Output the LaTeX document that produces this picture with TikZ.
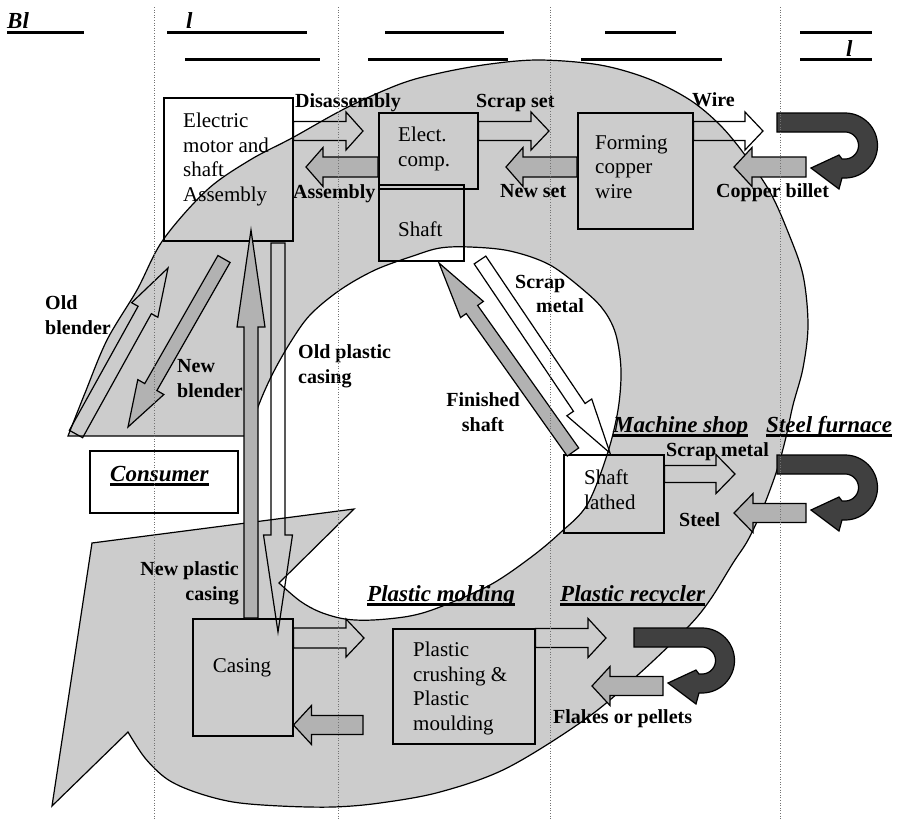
\documentclass[tikz,border=0pt]{standalone}
\usepackage{fontspec}
\setmainfont{Liberation Serif}
\usetikzlibrary{calc}
\definecolor{bandfill}{gray}{0.8}
\definecolor{arrowfill}{gray}{0.7}
\definecolor{uturnfill}{gray}{0.25}
\definecolor{guide}{gray}{0.45}

% block arrow: style, tail, tip, half body width, half head width, head length
\newcommand\blockarrow[6]{%
  \coordinate (bahead) at ($(#3)!#6!(#2)$);
  \draw[#1] ($(#2)!#4!90:(#3)$) -- ($(bahead)!#4!-90:(#2)$) -- ($(bahead)!#5!-90:(#2)$)
    -- (#3) -- ($(bahead)!#5!90:(#2)$) -- ($(bahead)!#4!90:(#2)$) -- ($(#2)!#4!-90:(#3)$) -- cycle;}

% U-turn arrow, top-left corner at the given coordinate
\newcommand\uturnarrow[1]{%
  \draw[uturn, shift={(#1)}] (0,0) -- (68,0)
    -- plot[domain=-90:90, samples=36] ({68+32.5*cos(\x)},{32.5+32.5*sin(\x)})
    -- (65,65) -- (62,76) -- (34,55) -- (62,42) -- (65,46) -- (68,46)
    -- plot[domain=90:-90, samples=30] ({68+13.5*cos(\x)},{32.5+13.5*sin(\x)})
    -- (0,19) -- cycle;}

\begin{document}
\begin{tikzpicture}[x=1pt,y=-1pt,
  band/.style={fill=bandfill, draw=black, line width=1.2pt},
  box/.style={draw=black, line width=1.5pt, inner sep=0pt, anchor=north west},
  btxt/.style={font=\fontsize{21}{24.5}\selectfont, inner sep=0pt, align=left},
  lbl/.style={font=\fontsize{20}{25}\selectfont\bfseries, inner sep=0pt},
  hdr/.style={font=\fontsize{23}{26}\selectfont\bfseries\itshape, inner sep=0pt, anchor=base west},
  hul/.style={line width=3pt},
  warr/.style={draw=black, line width=1.2pt, line join=miter},
  garr/.style={draw=black, fill=arrowfill, line width=1.2pt, line join=miter},
  uturn/.style={draw=black, fill=uturnfill, line width=1.2pt},
  colline/.style={draw=guide, dotted, line width=0.6pt}
]
\useasboundingbox (0,0) rectangle (906,820);

% the circular flow band
\path[band] (68,436) -- plot[smooth, tension=0.55] coordinates {(68,436) (85,393) (107,340) (137,290)
  (163,240) (207,190) (250,160) (292,138) (346,108) (400,84) (440,73) (490,64) (540,60) (600,65)
  (649,79) (690,100) (720,125) (745,155) (770,192) (788,232) (803,275) (808,325) (803,368)
  (793,405) (786,437) (777,470) (763,508) (748,540) (733,563) (710,600) (688,627) (640,673)
  (587,718) (507,768) (440,792) (380,803) (333,807) (280,806) (233,802) (195,792) (167,779)
  (145,758) (128,732)}
  -- (52,806) -- (92,543) -- (354,509) -- (279,583)
  -- plot[smooth, tension=0.55] coordinates {(279,583) (300,601) (320,612) (345,619) (373,620)
  (410,616) (440,607) (490,585) (530,558) (560,533) (587,505) (607,455) (618,410) (621,370)
  (616,335) (605,312) (587,293) (550,265) (510,251) (470,247) (440,248) (413,256) (375,270)
  (340,290) (310,315) (290,343) (272,375) (258,407) (250,436)} -- cycle;

% column headings (underlines)
\node[hdr, anchor=base west] (h1) at (7,28) {Bl};
\node[hdr, anchor=base west] (h2) at (186,28) {l};
\node[hdr, anchor=base west] (h5) at (846,56) {l};
\draw[hul] (7,32) -- (84,32);
\draw[hul] (167,32) -- (307,32);  \draw[hul] (185,59) -- (320,59);
\draw[hul] (385,32) -- (504,32);  \draw[hul] (368,59) -- (508,59);
\draw[hul] (605,32) -- (676,32);  \draw[hul] (581,59) -- (722,59);
\draw[hul] (800,32) -- (872,32);  \draw[hul] (800,59) -- (872,59);

% process boxes
\node[box, minimum width=129pt, minimum height=143pt] (emsa) at (163,97) {};
\node[box, minimum width=99pt, minimum height=76pt] (elec) at (378,112) {};
\node[box, minimum width=85pt, minimum height=76pt] (shaft) at (378,184) {};
\node[box, minimum width=115pt, minimum height=116pt] (form) at (577,112) {};
\node[box, minimum width=100pt, minimum height=78pt] (lathe) at (563,454) {};
\node[box, minimum width=100pt, minimum height=117pt] (casing) at (192,618) {};
\node[box, minimum width=142pt, minimum height=115pt] (crush) at (392,628) {};
\node[box, fill=white, minimum width=148pt, minimum height=62pt] (cons) at (89,450) {};

\node[btxt, anchor=north west] (emsa-t) at (183,113) {Electric\\motor and\\shaft\\Assembly};
\node[btxt, anchor=north west] (elec-t) at (398,127) {Elect.\\comp.};
\node[btxt, anchor=base west] (shaft-t) at (398,236) {Shaft};
\node[btxt, anchor=north west] (form-t) at (595,135) {Forming\\copper\\wire};
\node[btxt, anchor=north west] (lathe-t) at (584,470) {Shaft\\lathed};
\node[btxt, anchor=base] (casing-t) at (242,672) {Casing};
\node[btxt, anchor=north west] (crush-t) at (413,642) {Plastic\\crushing \&\\Plastic\\moulding};

% horizontal flows
\coordinate (dis-t) at (emsa.east |- 0,131);   \coordinate (dis-h) at (363,131);
\coordinate (asm-t) at (elec.west |- 0,167);   \coordinate (asm-h) at (306,167);
\coordinate (ss-t) at (elec.east |- 0,131);    \coordinate (ss-h) at (549,131);
\coordinate (ns-t) at (form.west |- 0,167);    \coordinate (ns-h) at (506,167);
\coordinate (wire-t) at (form.east |- 0,131);  \coordinate (wire-h) at (763,131);
\coordinate (cb-t) at (806,167);               \coordinate (cb-h) at (734,167);
\coordinate (sm-t) at (lathe.east |- 0,474);   \coordinate (sm-h) at (735,474);
\coordinate (st-t) at (806,513);               \coordinate (st-h) at (734,513);
\coordinate (pc-t) at (crush.east |- 0,638);   \coordinate (pc-h) at (606,638);
\coordinate (fp-t) at (663,686);               \coordinate (fp-h) at (592,686);
\coordinate (cs-t) at (casing.east |- 0,638);  \coordinate (cs-h) at (364,638);
\coordinate (cm-t) at (363,725);               \coordinate (cm-h) at (casing.east |- 0,725);
\blockarrow{warr}{dis-t}{dis-h}{9.5pt}{19pt}{17pt}
\blockarrow{garr}{asm-t}{asm-h}{10pt}{19.5pt}{17pt}
\blockarrow{warr}{ss-t}{ss-h}{9.5pt}{19pt}{18pt}
\blockarrow{garr}{ns-t}{ns-h}{10pt}{19.5pt}{17pt}
\blockarrow{warr}{wire-t}{wire-h}{9.5pt}{19pt}{18pt}
\blockarrow{garr}{cb-t}{cb-h}{10pt}{19.5pt}{18pt}
\blockarrow{warr}{sm-t}{sm-h}{8.5pt}{19.5pt}{19pt}
\blockarrow{garr}{st-t}{st-h}{9.5pt}{19.5pt}{19pt}
\blockarrow{warr}{pc-t}{pc-h}{9.5pt}{19.5pt}{18pt}
\blockarrow{garr}{fp-t}{fp-h}{9.5pt}{19.5pt}{18pt}
\blockarrow{warr}{cs-t}{cs-h}{10pt}{19pt}{18pt}
\blockarrow{garr}{cm-t}{cm-h}{9.5pt}{19.5pt}{18pt}

% long and diagonal flows
\coordinate (npc-t) at (251,618); \coordinate (npc-h) at (251,230);
\coordinate (opc-t) at (278,243); \coordinate (opc-h) at (278,632);
\coordinate (ob-t) at (76,434);   \coordinate (ob-h) at (168,268);
\coordinate (nb-t) at (224,259);  \coordinate (nb-h) at (128,427);
\coordinate (fs-t) at (573,452);  \coordinate (fs-h) at (439,263);
\coordinate (scm-t) at (480,260); \coordinate (scm-h) at (610,453);
\blockarrow{garr}{npc-t}{npc-h}{7pt}{14pt}{97pt}
\blockarrow{warr}{opc-t}{opc-h}{7pt}{14.5pt}{97pt}
\blockarrow{warr}{ob-t}{ob-h}{7.6pt}{15pt}{48pt}
\blockarrow{garr}{nb-t}{nb-h}{7pt}{15pt}{46pt}
\blockarrow{garr}{fs-t}{fs-h}{7pt}{14pt}{57pt}
\blockarrow{warr}{scm-t}{scm-h}{7pt}{15pt}{55pt}

% furnace / recycler return loops
\coordinate (ut1) at (777,113);
\coordinate (ut2) at (777,455);
\coordinate (ut3) at (634,628);
\uturnarrow{ut1}
\uturnarrow{ut2}
\uturnarrow{ut3}

% flow labels
\node[lbl, anchor=base west] (l-dis) at (295,107) {Disassembly};
\node[lbl, anchor=base west] (l-asm) at (293,198) {Assembly};
\node[lbl, anchor=base west] (l-ss) at (476,107) {Scrap set};
\node[lbl, anchor=base west] (l-ns) at (500,197) {New set};
\node[lbl, anchor=base west] (l-wire) at (692,106) {Wire};
\node[lbl, anchor=base west] (l-cb) at (716,197) {Copper billet};
\node[lbl, anchor=base west] (l-scr1) at (515,288) {Scrap};
\node[lbl, anchor=base west] (l-scr2) at (536,312) {metal};
\node[lbl, anchor=north west, align=left] (l-opc) at (298,344.5) {Old plastic\\casing};
\node[lbl, anchor=north, align=center] (l-fs) at (483,392.5) {Finished\\shaft};
\node[lbl, anchor=north west, align=left] (l-ob) at (45,295.5) {Old\\blender};
\node[lbl, anchor=north west, align=left] (l-nb) at (177,359.5) {New\\blender};
\node[lbl, anchor=north east, align=right] (l-npc) at (239,561.5) {New plastic\\casing};
\node[lbl, anchor=base west] (l-sm) at (666,456) {Scrap metal};
\node[lbl, anchor=base west] (l-st) at (679,526) {Steel};
\node[lbl, anchor=base west] (l-fp) at (553,723) {Flakes or pellets};

% actor headings
\node[hdr] (a-ms) at (613,432) {Machine shop};
\node[hdr] (a-sf) at (766,432) {Steel furnace};
\node[hdr] (a-pm) at (367,601) {Plastic molding};
\node[hdr] (a-pr) at (560,601) {Plastic recycler};
\node[hdr] (a-co) at (110,481) {Consumer};
\foreach \n in {a-ms,a-sf,a-pm,a-pr,a-co}
  \draw[hul] ([yshift=-3pt]\n.base west) -- ([yshift=-3pt]\n.base east);

% column separators
\foreach \cx in {154,338,550,780}
  \draw[colline] (\cx,7) -- (\cx,820);
\end{tikzpicture}
\end{document}
